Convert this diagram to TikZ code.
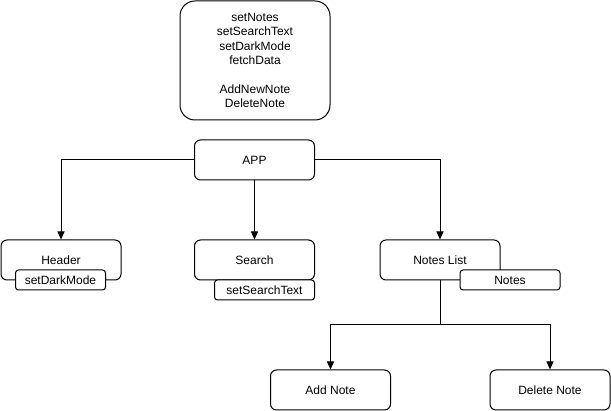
\documentclass[tikz,border=0pt]{standalone}
\usepackage{fontspec}
\setmainfont{Liberation Sans}
\usetikzlibrary{arrows.meta, positioning}

\begin{document}
\begin{tikzpicture}[
        x=1pt, y=-1pt,
        every node/.style={font=\fontsize{12}{14.4}\selectfont, inner sep=0pt},
        comp/.style={draw, rounded corners=6pt, line width=1pt, fill=white, minimum width=120pt, minimum height=40pt},
        tag/.style={draw, rounded corners=3pt, line width=1pt, fill=white, minimum height=20pt},
        arr/.style={line width=1pt, -{Stealth[length=8pt, width=7pt, inset=0pt]}}
    ]
        \useasboundingbox (0,0) rectangle (611,411);

        % State and handlers
        \node [draw, rounded corners=15pt, line width=1pt, minimum width=150pt, minimum height=119pt, align=center]
            (state) at (255,60.5) {setNotes\\setSearchText\\setDarkMode\\fetchData\\[14.4pt]AddNewNote\\DeleteNote};

        % Components
        \node [comp] (app) at (254.5,160) {APP};
        \node [comp, minimum width=120pt] (header) at (61,260) {Header};
        \node [comp] (search) at (254.5,260) {Search};
        \node [comp] (list) at (440,260) {Notes List};
        \node [comp] (add) at (330.5,390) {Add Note};
        \node [comp] (delete) at (550,390) {Delete Note};

        % Connectors
        \coordinate (split) at (440,325);
        \draw[arr] (app.west) -| (header.north);
        \draw[arr] (app.south) -- (search.north);
        \draw[arr] (app.east) -| (list.north);
        \draw[line width=1pt] (list.south) -- (split);
        \draw[arr] (split) -| (add.north);
        \draw[arr] (split) -| (delete.north);

        % Props
        \node [tag, minimum width=90pt] (darkmode) at (60.5,280) {setDarkMode};
        \node [tag, minimum width=100pt] (searchtext) at (264.5,290) {setSearchText};
        \node [tag, minimum width=100pt] (notes) at (510,280) {Notes};
    \end{tikzpicture}
\end{document}
